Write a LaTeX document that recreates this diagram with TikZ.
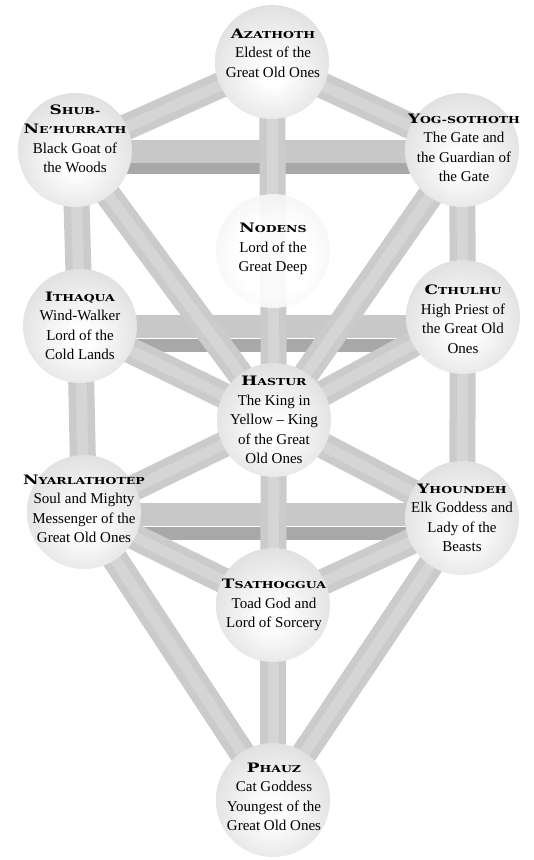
\documentclass[tikz,border=0pt]{standalone}
\usepackage{fontspec}
\setmainfont{Liberation Serif}
\newfontfamily\ttlfont{DejaVu Serif Bold}[FakeStretch=1.3]
\newcommand\ttl[2]{{\ttlfont\fontsize{13}{18}\selectfont #1\fontsize{9.6}{18}\selectfont #2}}
\usetikzlibrary{calc,backgrounds}
\definecolor{barc}{HTML}{CBCBCB}
\definecolor{barh}{HTML}{D5D5D5}
\definecolor{bandl}{HTML}{C8C8C8}
\definecolor{bandd}{HTML}{A8A8A8}
\pgfdeclareradialshading{sph}{\pgfpoint{0bp}{-6bp}}{color(0bp)=(white); color(5bp)=(white); color(28bp)=(black!12); color(50bp)=(black!27)}
\pgfdeclareradialshading{sphl}{\pgfpoint{0bp}{-4bp}}{color(0bp)=(white); color(16bp)=(white); color(38bp)=(black!7); color(50bp)=(black!19)}
\tikzset{
  sphere/.style={circle, minimum size=114pt, inner sep=0pt, shading=sph},
  spherel/.style={circle, minimum size=114pt, inner sep=0pt, shading=sphl, opacity=0.9},
  txt/.style={align=center, font=\fontsize{15}{19.5}\selectfont, inner sep=0pt},
  bar/.style={line width=26pt, draw=barc},
  barhi/.style={line width=11pt, draw=barh},
  bandlight/.style={line width=23pt, draw=bandl},
  banddark/.style={line width=13pt, draw=bandd},
}
\begin{document}
\begin{tikzpicture}[x=1pt,y=-1pt]
\useasboundingbox (0,0) rectangle (534,860);
% spheres
\node[sphere] (az) at (272,62) {};
\node[sphere] (shub) at (75,150) {};
\node[sphere] (yog) at (462,150) {};
\node[spherel] (nod) at (273,251) {};
\node[sphere] (ith) at (80,326) {};
\node[sphere] (cth) at (463,317) {};
\node[sphere] (has) at (274,420) {};
\node[sphere] (nyr) at (84,512) {};
\node[sphere] (yho) at (462,518) {};
\node[sphere] (tsa) at (273,605) {};
\node[sphere] (pha) at (273,800) {};
% texts
\node[txt] (azt) at (273,53) {\ttl{A}{ZATHOTH}\\Eldest of the\\Great Old Ones};
\node[txt] (shubt) at (75,139) {\ttl{S}{HUB-}\\\ttl{N}{E’HURRATH}\\Black Goat of\\the Woods};
\node[txt] (yogt) at (464,148) {\ttl{Y}{OG-SOTHOTH}\\The Gate and\\the Guardian of\\the Gate};
\node[txt] (nodt) at (273,249) {\ttl{N}{ODENS}\\Lord of the\\Great Deep};
\node[txt] (itht) at (80,326) {\ttl{I}{THAQUA}\\Wind-Walker\\Lord of the\\Cold Lands};
\node[txt] (ctht) at (463,319) {\ttl{C}{THULHU}\\High Priest of\\the Great Old\\Ones};
\node[txt] (hast) at (274,420) {\ttl{H}{ASTUR}\\The King in\\Yellow – King\\of the Great\\Old Ones};
\node[txt] (nyrt) at (84,509) {\ttl{N}{YARLATHOTEP}\\Soul and Mighty\\Messenger of the\\Great Old Ones};
\node[txt] (yhot) at (462,518) {\ttl{Y}{HOUNDEH}\\Elk Goddess and\\Lady of the\\Beasts};
\node[txt] (tsat) at (274,605) {\ttl{T}{SATHOGGUA}\\Toad God and\\Lord of Sorcery};
\node[txt] (phat) at (274,797) {\ttl{P}{HAUZ}\\Cat Goddess\\Youngest of the\\Great Old Ones};
\begin{scope}[on background layer]
  \fill[white] (0,0) rectangle (534,860);
  % twisted horizontal bands
  \draw[banddark] ([yshift=-17pt]shub.center) -- ([yshift=-17pt]yog.center);
  \draw[bandlight] ([yshift=-1pt]shub.center) -- ([yshift=-1pt]yog.center);
  \draw[banddark] ([yshift=-19pt]ith.center) -- ([yshift=-28pt]cth.center);
  \draw[bandlight] ([yshift=0pt]ith.center) -- ([yshift=-9pt]cth.center);
  \draw[banddark] ([yshift=-21pt]nyr.center) -- ([yshift=-15pt]yho.center);
  \draw[bandlight] ([yshift=-2pt]nyr.center) -- ([yshift=4pt]yho.center);
  % bars
  \foreach \a/\b in {az/shub, az/yog, az/nod, nod/has, shub/ith, ith/nyr, yog/cth, cth/yho,
                     shub/has, yog/has, ith/has, cth/has, has/nyr, has/yho, has/tsa,
                     nyr/tsa, yho/tsa, nyr/pha, yho/pha, tsa/pha}{
    \draw[bar] (\a.center) -- (\b.center);
    \draw[barhi] (\a.center) -- (\b.center);
  }
\end{scope}
\end{tikzpicture}
\end{document}
